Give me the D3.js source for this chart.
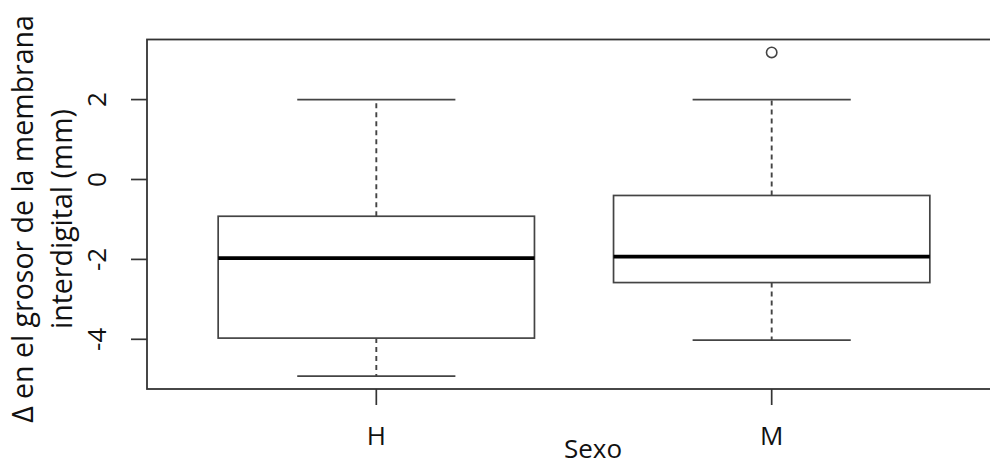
<!DOCTYPE html>
<html>
<head>
<meta charset="utf-8">
<script src="https://cdn.jsdelivr.net/npm/d3@7"></script>
<style>
  body { margin: 0; background: #fff; }
  svg { display: block; font-family: 'Open Sans', sans-serif; }
</style>
</head>
<body>
<svg id="chart" width="990" height="466"></svg>
<script>
// values
const groups = ['H', 'M'];
const lowerWhisker = [-4.92, -4.02];
const q1 = [-3.97, -2.58];
const median = [-1.97, -1.93];
const q3 = [-0.92, -0.40];
const upperWhisker = [2.0, 2.0];
const outliers = [[], [3.18]];
const yTicks = [-4, -2, 0, 2];

const svg = d3.select('#chart');
const plotLeft = 147;
const plotRight = 1001;
const plotTop = 39.5;
const plotBottom = 389;

// R style: extend the data range by 4% on both sides
const allVals = lowerWhisker.concat(upperWhisker, outliers.flat());
const yMin = d3.min(allVals);
const yMax = d3.max(allVals);
const pad = (yMax - yMin) * 0.04;
const y = d3.scaleLinear().domain([yMin - pad, yMax + pad]).range([plotBottom, plotTop]);

const xPad = groups.length * 0.04;
const x = d3.scaleLinear()
  .domain([0.5 - xPad, groups.length + 0.5 + xPad])
  .range([plotLeft, plotRight]);

const boxHalf = 0.4;
const capHalf = 0.2;
const lineCol = '#444';

groups.forEach((g, i) => {
  const cx = x(i + 1);
  const grp = svg.append('g');

  // whiskers
  grp.append('line')
    .attr('x1', cx).attr('x2', cx)
    .attr('y1', y(q3[i])).attr('y2', y(upperWhisker[i]))
    .attr('stroke', lineCol).attr('stroke-width', 1.9)
    .attr('stroke-dasharray', '5,4');
  grp.append('line')
    .attr('x1', cx).attr('x2', cx)
    .attr('y1', y(q1[i])).attr('y2', y(lowerWhisker[i]))
    .attr('stroke', lineCol).attr('stroke-width', 1.9)
    .attr('stroke-dasharray', '5,4');

  // staples
  [upperWhisker[i], lowerWhisker[i]].forEach(v => {
    grp.append('line')
      .attr('x1', x(i + 1 - capHalf)).attr('x2', x(i + 1 + capHalf))
      .attr('y1', y(v)).attr('y2', y(v))
      .attr('stroke', lineCol).attr('stroke-width', 1.7);
  });

  // box
  grp.append('rect')
    .attr('x', x(i + 1 - boxHalf))
    .attr('y', y(q3[i]))
    .attr('width', x(i + 1 + boxHalf) - x(i + 1 - boxHalf))
    .attr('height', y(q1[i]) - y(q3[i]))
    .attr('fill', '#fff')
    .attr('stroke', lineCol).attr('stroke-width', 1.7);

  // median
  grp.append('line')
    .attr('x1', x(i + 1 - boxHalf)).attr('x2', x(i + 1 + boxHalf))
    .attr('y1', y(median[i])).attr('y2', y(median[i]))
    .attr('stroke', '#000').attr('stroke-width', 3.8);

  // outliers
  grp.selectAll('circle').data(outliers[i]).join('circle')
    .attr('cx', cx).attr('cy', d => y(d)).attr('r', 5.2)
    .attr('fill', 'none').attr('stroke', lineCol).attr('stroke-width', 1.6);
});

// frame
svg.append('rect')
  .attr('x', plotLeft).attr('y', plotTop)
  .attr('width', plotRight - plotLeft).attr('height', plotBottom - plotTop)
  .attr('fill', 'none').attr('stroke', '#333').attr('stroke-width', 1.8);

// y axis
const yAxis = svg.append('g');
yAxis.selectAll('line').data(yTicks).join('line')
  .attr('x1', plotLeft - 16).attr('x2', plotLeft)
  .attr('y1', d => y(d)).attr('y2', d => y(d))
  .attr('stroke', '#333').attr('stroke-width', 1.7);
yAxis.selectAll('text').data(yTicks).join('text')
  .attr('transform', d => `translate(106,${y(d)}) rotate(-90)`)
  .attr('text-anchor', 'middle')
  .attr('font-size', 26)
  .attr('fill', '#111')
  .text(d => d);

// x axis
const xAxis = svg.append('g');
xAxis.selectAll('line').data(groups).join('line')
  .attr('x1', (d, i) => x(i + 1)).attr('x2', (d, i) => x(i + 1))
  .attr('y1', plotBottom).attr('y2', plotBottom + 16)
  .attr('stroke', '#333').attr('stroke-width', 1.7);
xAxis.selectAll('text').data(groups).join('text')
  .attr('x', (d, i) => x(i + 1))
  .attr('y', 445)
  .attr('text-anchor', 'middle')
  .attr('font-size', 26)
  .attr('fill', '#111')
  .text(d => d);

// axis titles
svg.append('text')
  .attr('x', 593).attr('y', 458)
  .attr('text-anchor', 'middle')
  .attr('font-size', 26)
  .attr('fill', '#111')
  .text('Sexo');

const yTitle = svg.append('text')
  .attr('transform', 'translate(33,219) rotate(-90)')
  .attr('text-anchor', 'middle')
  .attr('font-size', 28.5)
  .attr('fill', '#111');
yTitle.append('tspan').attr('x', 0).attr('dy', 0).text('Δ en el grosor de la membrana');
yTitle.append('tspan').attr('x', 0).attr('dy', 39).text('interdigital (mm)');
</script>
</body>
</html>
